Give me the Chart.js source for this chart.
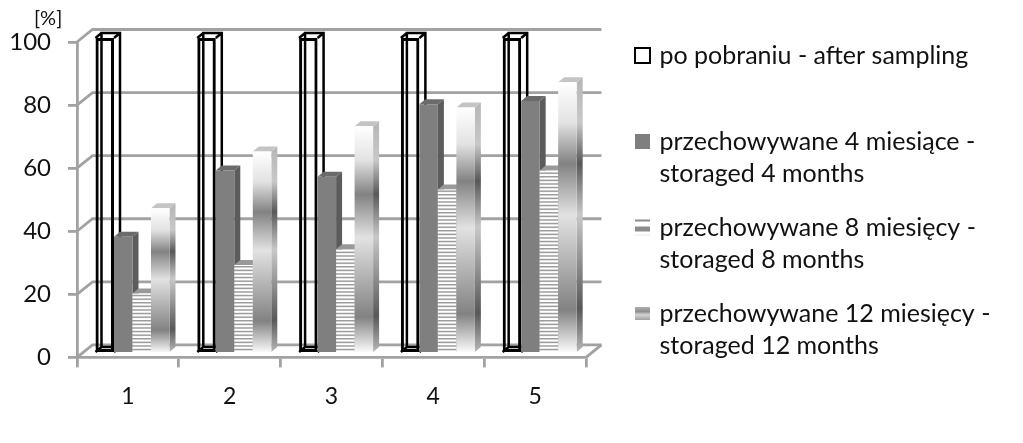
<!DOCTYPE html>
<html>
<head>
<meta charset="utf-8">
<title>chart</title>
<script src="https://cdn.jsdelivr.net/npm/chart.js@4"></script>
<style>
  html, body { margin: 0; padding: 0; background: #fff; }
  canvas { display: block; }
</style>
</head>
<body>
<canvas id="chart" width="1023" height="443"></canvas>
<script>
var categories = ['1', '2', '3', '4', '5'];
var yTicks = [0, 20, 40, 60, 80, 100];
var afterSampling = [100, 100, 100, 100, 100];
var stored4 = [37, 58, 56, 79, 80];
var stored8 = [19, 28, 33, 52, 58];
var stored12 = [46, 64, 72, 78, 86];
var unitLabel = '[%]';
var legendLabels = [
  ['po pobraniu - after sampling', ''],
  ['przechowywane 4 miesiące -', 'storaged 4 months'],
  ['przechowywane 8 miesięcy -', 'storaged 8 months'],
  ['przechowywane 12 miesięcy -', 'storaged 12 months']
];

var GRID = '#a2a2a2';
var TEXT = '#111';
var FONT = 'Lato';

// 3d look: how far the back wall sits behind the axes, and the bars inside that
var wall = {dx: 15.5, dy: -12.5};
var barShift = {dx: 4.6, dy: -4};
var depth = {dx: 6, dy: -5};

var ctx = document.getElementById('chart').getContext('2d');

function stripes() {
  var c = document.createElement('canvas');
  c.width = 4;
  c.height = 18;
  var g = c.getContext('2d');
  g.fillStyle = '#fff';
  g.fillRect(0, 0, 4, 18);
  g.fillStyle = '#9c9c9c';
  for (var i = 0; i < 5; i++) g.fillRect(0, i * 3.6, 4, 1.5);
  return ctx.createPattern(c, 'repeat');
}

function band(top, bottom, colors) {
  var g = ctx.createLinearGradient(0, top, 0, bottom);
  g.addColorStop(0, colors[0]);
  g.addColorStop(0.15, colors[1]);
  g.addColorStop(0.3, colors[2]);
  g.addColorStop(0.49, colors[1]);
  g.addColorStop(0.84, colors[2]);
  g.addColorStop(1, colors[0]);
  return g;
}

function swatch(w, h, draw) {
  var c = document.createElement('canvas');
  c.width = w;
  c.height = h;
  draw(c.getContext('2d'));
  return c;
}

var swatches = [
  swatch(17, 17, function(g) {
    g.strokeStyle = '#000';
    g.lineWidth = 2;
    g.strokeRect(1, 1, 15, 15);
  }),
  swatch(15, 15, function(g) {
    g.fillStyle = '#7f7f7f';
    g.fillRect(0, 0, 15, 15);
  }),
  swatch(15, 18, function(g) {
    g.fillStyle = '#8c8c8c';
    g.fillRect(0, 1, 15, 2);
    g.fillRect(0, 8, 15, 5);
    g.fillStyle = '#e8e8e8';
    g.fillRect(0, 16, 15, 1);
  }),
  swatch(15, 13, function(g) {
    var l = g.createLinearGradient(0, 0, 0, 13);
    l.addColorStop(0, '#b0b0b0');
    l.addColorStop(0.35, '#8e8e8e');
    l.addColorStop(0.6, '#d4d4d4');
    l.addColorStop(1, '#a0a0a0');
    g.fillStyle = l;
    g.fillRect(0, 0, 15, 13);
  })
];

function frontBand(c) {
  if (c.parsed === undefined) return '#aaa';
  var y = c.chart.scales.y;
  return band(y.getPixelForValue(c.parsed.y), y.getPixelForValue(0), ['#ffffff', '#e2e2e2', '#828282']);
}

var depthStyle = [
  {side: null, top: null},
  {side: '#5c5c5c', top: '#6b6b6b'},
  {side: '#8a8a8a', top: '#999999'},
  {side: 'band', top: '#c4c4c4'}
];

function face(points, fill) {
  ctx.beginPath();
  ctx.moveTo(points[0][0], points[0][1]);
  for (var i = 1; i < points.length; i++) ctx.lineTo(points[i][0], points[i][1]);
  ctx.closePath();
  ctx.fillStyle = fill;
  ctx.fill();
}

function drawDepth(meta, style) {
  var dx = depth.dx, dy = depth.dy;
  meta.data.forEach(function(bar) {
    var l = bar.x - bar.width / 2, r = bar.x + bar.width / 2, t = bar.y, b = bar.base;
    if (!style.side) {
      // open frame: only the back edges
      ctx.strokeStyle = '#000';
      ctx.lineWidth = 2.5;
      ctx.beginPath();
      ctx.rect(l + dx, t + dy, r - l, b - t);
      ctx.moveTo(l, t); ctx.lineTo(l + dx, t + dy);
      ctx.moveTo(r, t); ctx.lineTo(r + dx, t + dy);
      ctx.moveTo(l, b); ctx.lineTo(l + dx, b + dy);
      ctx.moveTo(r, b); ctx.lineTo(r + dx, b + dy);
      ctx.stroke();
      return;
    }
    var side = style.side === 'band' ? band(t, b, ['#b8b8b8', '#c8c8c8', '#585858']) : style.side;
    face([[r, t], [r + dx, t + dy], [r + dx, b + dy], [r, b]], side);
    face([[l, t], [l + dx, t + dy], [r + dx, t + dy], [r, t]], style.top);
  });
}

var wallsAndDepth = {
  id: 'wallsAndDepth',
  afterLayout: function(chart) {
    // the legend and the unit label sit apart from the plot
    chart.legend.left = 616;
    chart.legend.right = chart.width;
    chart.legend.top = 21;
    chart.legend.bottom = chart.height;
    chart.titleBlock.left = 34;
  },
  beforeDatasetsDraw: function(chart) {
    var a = chart.chartArea, y = chart.scales.y;
    ctx.save();
    ctx.strokeStyle = GRID;
    ctx.lineWidth = 2.8;
    yTicks.forEach(function(v) {
      var py = y.getPixelForValue(v);
      ctx.beginPath();
      ctx.moveTo(a.left, py);
      ctx.lineTo(a.left + wall.dx, py + wall.dy);
      ctx.lineTo(a.right + wall.dx, py + wall.dy);
      ctx.stroke();
    });
    ctx.beginPath();
    ctx.moveTo(a.right, a.bottom);
    ctx.lineTo(a.right + wall.dx, a.bottom + wall.dy);
    ctx.stroke();
    ctx.restore();
  },
  // chart.js paints the last dataset first; here the bars overlap left to right
  beforeDatasetDraw: function() {
    return false;
  },
  afterDatasetsDraw: function(chart) {
    ctx.save();
    ctx.translate(barShift.dx, barShift.dy);
    depthStyle.forEach(function(style, i) {
      var meta = chart.getDatasetMeta(i);
      drawDepth(meta, style);
      meta.controller.draw();
    });
    ctx.restore();
  }
};

new Chart(ctx, {
  type: 'bar',
  plugins: [wallsAndDepth],
  data: {
    labels: categories,
    datasets: [
      {label: legendLabels[0].join(' '), data: afterSampling,
       backgroundColor: 'rgba(255,255,255,0)', borderColor: '#000', borderWidth: 3, borderSkipped: false},
      {label: legendLabels[1].join(' '), data: stored4, backgroundColor: '#7f7f7f'},
      {label: legendLabels[2].join(' '), data: stored8, backgroundColor: stripes()},
      {label: legendLabels[3].join(' '), data: stored12, backgroundColor: frontBand}
    ]
  },
  options: {
    responsive: false,
    animation: false,
    events: [],
    layout: {padding: {left: 0, right: 241.7, top: 0, bottom: 18}},
    datasets: {bar: {categoryPercentage: 0.727, barPercentage: 1}},
    scales: {
      x: {
        grid: {drawOnChartArea: false, color: GRID, lineWidth: 2.8, tickLength: 10},
        border: {color: GRID, width: 2.8},
        ticks: {color: TEXT, padding: 15, font: {family: FONT, size: 23}}
      },
      y: {
        min: 0,
        max: 100,
        afterBuildTicks: function(axis) {
          axis.ticks = yTicks.map(function(v) { return {value: v}; });
        },
        afterFit: function(axis) {
          axis.width = 77;
        },
        grid: {drawOnChartArea: false, color: GRID, lineWidth: 2.8, tickLength: 9},
        border: {color: GRID, width: 2.8},
        ticks: {color: TEXT, padding: 17, font: {family: FONT, size: 24}}
      }
    },
    plugins: {
      tooltip: {enabled: false},
      title: {
        display: true,
        text: unitLabel,
        align: 'start',
        color: TEXT,
        font: {family: FONT, size: 20, weight: 'normal'},
        padding: {top: 7, bottom: 11}
      },
      legend: {
        position: 'right',
        align: 'start',
        labels: {
          usePointStyle: true,
          boxWidth: 9,
          boxHeight: 9,
          padding: 22,
          color: TEXT,
          font: {family: FONT, size: 25, lineHeight: 32 / 25},
          generateLabels: function() {
            return legendLabels.map(function(text, i) {
              return {text: text, pointStyle: swatches[i], datasetIndex: i, fontColor: TEXT, lineWidth: 0};
            });
          }
        }
      }
    }
  }
});
</script>
</body>
</html>
